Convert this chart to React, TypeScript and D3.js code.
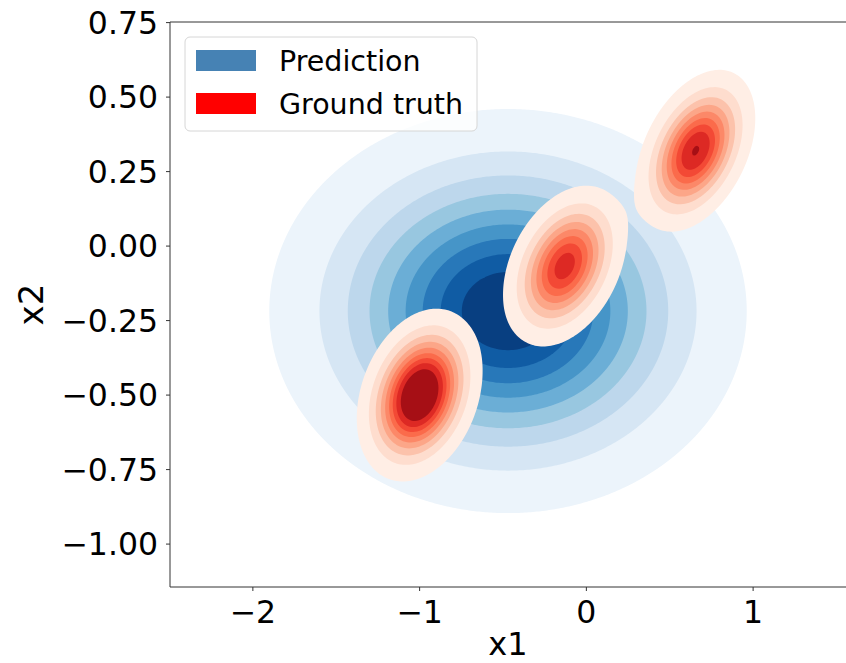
import React, { useEffect, useRef } from 'react'
import * as d3 from 'd3'

const W = 846
const H = 663

const xTicks = [-2, -1, 0, 1]
const yTicks = [0.75, 0.5, 0.25, 0, -0.25, -0.5, -0.75, -1]

// Prediction: one broad blob
const predCenters = [[-0.47, -0.218]]
const predSigmaX = [0.587]
const predSigmaY = [0.278]
const predRho = [0.0]
const predWeight = [1]

// Ground truth: three tight tilted blobs
const gtCenters = [[-1.0, -0.5], [-0.13, -0.067], [0.655, 0.32]]
const gtSigmaX = [0.15, 0.156, 0.149]
const gtSigmaY = [0.1154, 0.114, 0.113]
const gtRho = [0.27, 0.35, 0.4]
const gtWeight = [1.0, 0.7, 0.705]

// seaborn style iso-proportion levels
const levelQuantiles = d3.range(10).map(i => 0.05 + (i * 0.95) / 9)

const bluesColors = ['#f7fbff', '#deebf7', '#c6dbef', '#9ecae1', '#6baed6', '#4292c6', '#2171b5', '#08519c', '#08306b']
const redsColors = ['#fff5f0', '#fee0d2', '#fcbba1', '#fc9272', '#fb6a4a', '#ef3b2c', '#cb181d', '#a50f15', '#67000d']

const legendNames = ['Prediction', 'Ground truth']
const legendColors = ['#4682b4', '#ff0000']

const fmtY = (v: number) => d3.format('.2f')(v).replace('-', '\u2212')
const fmtX = (v: number) => String(v).replace('-', '\u2212')

function mixture(centers: number[][], sx: number[], sy: number[], rho: number[], w: number[]) {
  return (x: number, y: number) => {
    let s = 0
    for (let i = 0; i < centers.length; i++) {
      let dx = (x - centers[i][0]) / sx[i]
      let dy = (y - centers[i][1]) / sy[i]
      let r = rho[i]
      let q = (dx * dx - 2 * r * dx * dy + dy * dy) / (1 - r * r)
      s += (w[i] / (2 * Math.PI * sx[i] * sy[i] * Math.sqrt(1 - r * r))) * Math.exp(-q / 2)
    }
    return s
  }
}

export default function App() {
  const ref = useRef<SVGSVGElement>(null)

  useEffect(() => {
    const svg = d3.select(ref.current)
    svg.selectAll('*').remove()

    const left = 170, right = 846, top = 22, bottom = 587
    const x = d3.scaleLinear().domain([-2.497, 1.557]).range([left, right])
    const y = d3.scaleLinear().domain([-1.144, 0.752]).range([bottom, top])

    svg.append('defs').append('clipPath').attr('id', 'plotclip')
      .append('rect').attr('x', left).attr('y', top).attr('width', right - left).attr('height', bottom - top)

    const plot = svg.append('g').attr('clip-path', 'url(#plotclip)')

    const step = 2
    const nx = Math.ceil((right - left) / step)
    const ny = Math.ceil((bottom - top) / step)

    const drawKde = (f: (a: number, b: number) => number, colors: string[]) => {
      const values = new Float64Array(nx * ny)
      for (let j = 0; j < ny; j++) {
        for (let i = 0; i < nx; i++) {
          values[j * nx + i] = f(x.invert(left + (i + 0.5) * step), y.invert(top + (j + 0.5) * step))
        }
      }
      const sorted = Float64Array.from(values).sort()
      const total = d3.sum(sorted)
      const cum = new Float64Array(sorted.length)
      let acc = 0
      for (let k = 0; k < sorted.length; k++) { acc += sorted[k]; cum[k] = acc / total }
      const levels = levelQuantiles.map(q => {
        let idx = d3.bisectLeft(cum as any, q)
        return sorted[Math.min(idx, sorted.length - 1)]
      })
      const cmap = d3.scaleLinear<string>()
        .domain(d3.range(9).map(i => i / 8))
        .range(colors)
        .interpolate(d3.interpolateRgb)
      const lo = levels[0], hi = levels[levels.length - 1]
      const contours = d3.contours().size([nx, ny]).thresholds(levels.slice(0, 9))(values as any)
      const path = d3.geoPath(d3.geoIdentity().scale(step))
      plot.append('g')
        .attr('transform', `translate(${left},${top})`)
        .selectAll('path')
        .data(contours)
        .enter()
        .append('path')
        .attr('d', d => path(d as any))
        .attr('fill', (d, i) => cmap(((levels[i] + levels[i + 1]) / 2 - lo) / (hi - lo)))
        .attr('stroke', 'none')
    }

    drawKde(mixture(predCenters, predSigmaX, predSigmaY, predRho, predWeight), bluesColors)
    drawKde(mixture(gtCenters, gtSigmaX, gtSigmaY, gtRho, gtWeight), redsColors)

    // spines
    const axisColor = '#333'
    svg.append('path')
      .attr('d', `M${left},${top}H${right}M${left},${top}V${bottom}H${right}`)
      .attr('fill', 'none').attr('stroke', axisColor).attr('stroke-width', 1)

    // x ticks
    const xg = svg.append('g').attr('font-family', 'DejaVu Sans').attr('font-size', 31.5)
    xTicks.forEach(t => {
      xg.append('line').attr('x1', x(t)).attr('x2', x(t)).attr('y1', bottom).attr('y2', bottom + 4)
        .attr('stroke', axisColor)
      xg.append('text').attr('x', x(t)).attr('y', 623).attr('text-anchor', 'middle').text(fmtX(t))
    })
    // y ticks
    const yg = svg.append('g').attr('font-family', 'DejaVu Sans').attr('font-size', 31.5)
    yTicks.forEach(t => {
      yg.append('line').attr('x1', left - 4).attr('x2', left).attr('y1', y(t)).attr('y2', y(t))
        .attr('stroke', axisColor)
      yg.append('text').attr('x', 158).attr('y', y(t)).attr('dy', '0.36em').attr('text-anchor', 'end').text(fmtY(t))
    })

    svg.append('text').attr('x', (left + right) / 2).attr('y', 655).attr('text-anchor', 'middle')
      .attr('font-family', 'DejaVu Sans').attr('font-size', 32).text('x1')
    svg.append('text').attr('transform', `translate(43,${(top + bottom) / 2}) rotate(-90)`)
      .attr('text-anchor', 'middle')
      .attr('font-family', 'DejaVu Sans').attr('font-size', 34).text('x2')

    // legend
    const lg = svg.append('g')
    lg.append('rect').attr('x', 185).attr('y', 37).attr('width', 292).attr('height', 94).attr('rx', 5)
      .attr('fill', 'white').attr('fill-opacity', 0.8).attr('stroke', '#d6d6d6')
    legendNames.forEach((name, i) => {
      lg.append('rect').attr('x', 196).attr('y', 50 + i * 43).attr('width', 60).attr('height', 21)
        .attr('fill', legendColors[i])
      lg.append('text').attr('x', 279).attr('y', 71 + i * 43)
        .attr('font-family', 'DejaVu Sans').attr('font-size', 28.5).text(name)
    })
  }, [])

  return (
    <svg
      ref={ref}
      width={W}
      height={H}
      style={{ position: 'absolute', left: 0, top: 0, background: 'white' }}
    />
  )
}
